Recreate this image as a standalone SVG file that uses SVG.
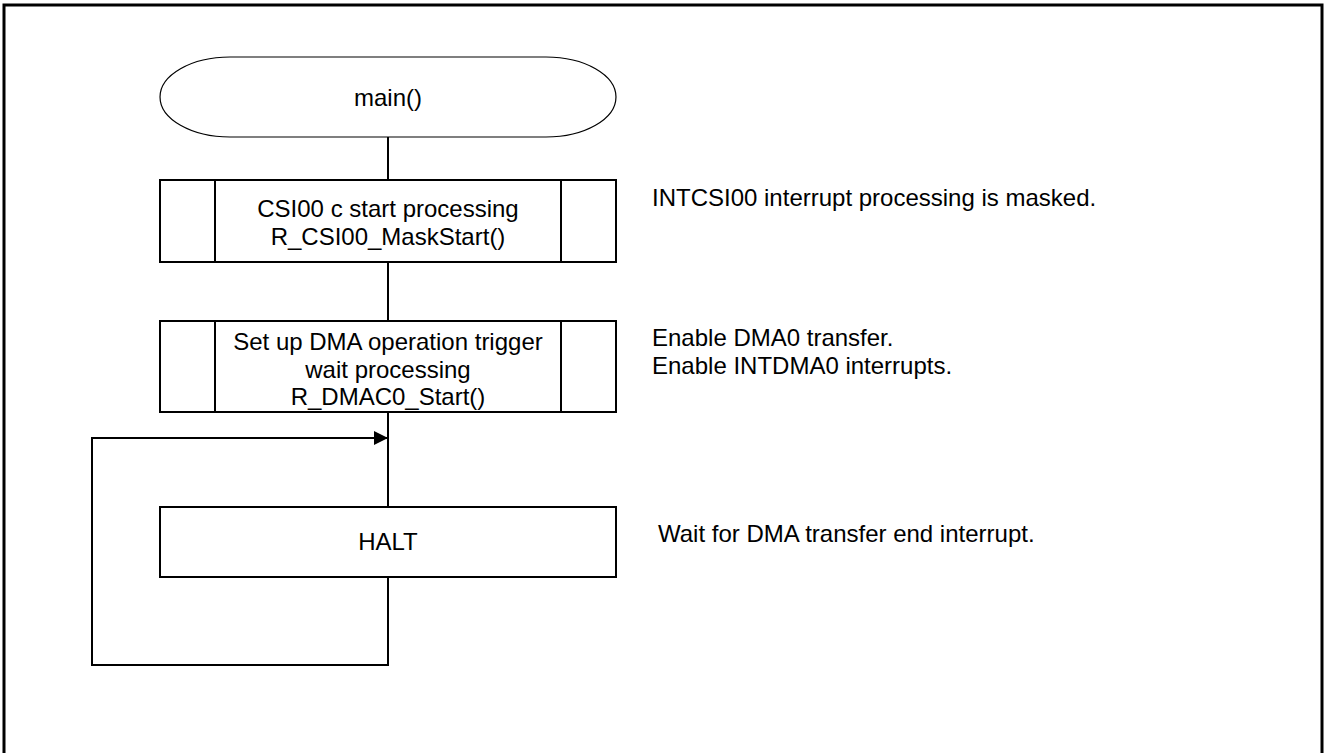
<svg xmlns="http://www.w3.org/2000/svg" width="1325" height="753" viewBox="0 0 1325 753">
  <style>
    text { font-family: "Liberation Sans", Arial, sans-serif; font-size: 24px; fill: #000; }
    .c { text-anchor: middle; }
    .box { fill: #fff; stroke: #000; stroke-width: 2; }
    .bar { stroke: #000; stroke-width: 2; }
    .term { fill: #fff; stroke: #000; stroke-width: 1.2; }
    .wire { fill: none; stroke: #000; stroke-width: 2; }
  </style>
  <defs>
    <marker id="arrow" viewBox="0 0 14 14" refX="14" refY="7" markerWidth="14" markerHeight="14" markerUnits="userSpaceOnUse" orient="auto">
      <path d="M0,0 L14,7 L0,14 Z" fill="#000"/>
    </marker>
  </defs>

  <rect width="1325" height="753" fill="#fff"/>
  <!-- frame -->
  <rect x="4" y="5" width="1318" height="770" fill="none" stroke="#000" stroke-width="3"/>

  <!-- connectors -->
  <g id="connectors">
    <line class="wire" x1="388" y1="137" x2="388" y2="180"/>
    <line class="wire" x1="388" y1="262" x2="388" y2="321"/>
    <line class="wire" x1="388" y1="412" x2="388" y2="507"/>
    <path class="wire" d="M388,577 V665 H92 V438 H388" marker-end="url(#arrow)"/>
  </g>

  <!-- start terminal -->
  <g id="main">
    <path class="term" d="M230,57 H546 A70,40 0 0 1 546,137 H230 A70,40 0 0 1 230,57 Z"/>
    <text class="c" x="388" y="106">main()</text>
  </g>

  <!-- predefined process: CSI00 start -->
  <g id="csi00-start">
    <rect class="box" x="160" y="180" width="456" height="82"/>
    <line class="bar" x1="215" y1="180" x2="215" y2="262"/>
    <line class="bar" x1="561" y1="180" x2="561" y2="262"/>
    <text class="c" x="388" y="217">CSI00 c start processing</text>
    <text class="c" x="388" y="245">R_CSI00_MaskStart()</text>
  </g>

  <!-- predefined process: DMA start -->
  <g id="dmac0-start">
    <rect class="box" x="160" y="321" width="456" height="91"/>
    <line class="bar" x1="215" y1="321" x2="215" y2="412"/>
    <line class="bar" x1="561" y1="321" x2="561" y2="412"/>
    <text class="c" x="388" y="350">Set up DMA operation trigger</text>
    <text class="c" x="388" y="378">wait processing</text>
    <text class="c" x="388" y="405">R_DMAC0_Start()</text>
  </g>

  <!-- HALT -->
  <g id="halt">
    <rect class="box" x="160" y="507" width="456" height="70"/>
    <text class="c" x="388" y="550">HALT</text>
  </g>

  <!-- notes -->
  <g id="notes">
    <text x="652" y="206">INTCSI00 interrupt processing is masked.</text>
    <text x="652" y="346">Enable DMA0 transfer.</text>
    <text x="652" y="374">Enable INTDMA0 interrupts.</text>
    <text x="658" y="542">Wait for DMA transfer end interrupt.</text>
  </g>
</svg>
